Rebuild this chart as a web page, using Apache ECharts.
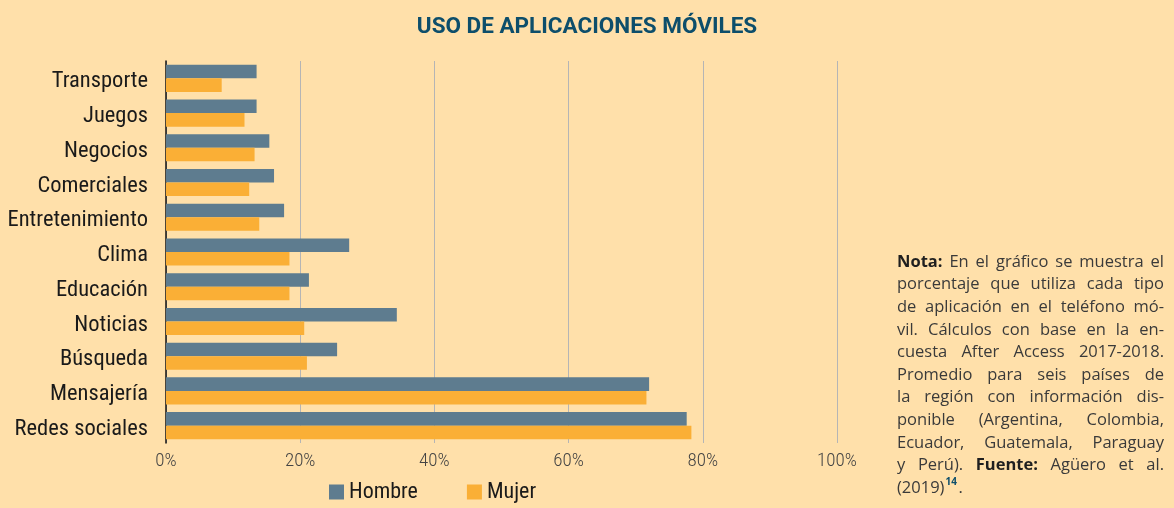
<!DOCTYPE html>
<html>
<head>
<meta charset="utf-8">
<script src="https://cdn.jsdelivr.net/npm/echarts@6/dist/echarts.min.js"></script>
<style>
  html, body { margin: 0; padding: 0; background: #FFE0AA; }
  #main { width: 1174px; height: 508px; }
</style>
</head>
<body>
<div id="main"></div>
<script>
// datos (porcentaje)
var categorias = ['Transporte', 'Juegos', 'Negocios', 'Comerciales', 'Entretenimiento', 'Clima',
  'Educación', 'Noticias', 'Búsqueda', 'Mensajería', 'Redes sociales'];
var hombre = [13.5, 13.5, 15.4, 16.1, 17.6, 27.3, 21.3, 34.4, 25.5, 72.0, 77.6];
var mujer = [8.3, 11.7, 13.2, 12.4, 13.9, 18.4, 18.4, 20.6, 21.0, 71.6, 78.3];
var ticksX = [0, 20, 40, 60, 80, 100];

var narrow = '"Roboto Condensed", Roboto, sans-serif';
var noteFont = '"Open Sans", sans-serif';

// texto de la nota, una línea por renglón (justificado a mano)
var notaLineas = [
  '*Nota:* En el gráfico se muestra el',
  'porcentaje que utiliza cada tipo',
  'de aplicación en el teléfono mó-',
  'vil. Cálculos con base en la en-',
  'cuesta After Access 2017-2018.',
  'Promedio para seis países de',
  'la región con información dis-',
  'ponible (Argentina, Colombia,',
  'Ecuador, Guatemala, Paraguay',
  'y Perú). *Fuente:* Agüero et al.'
];

var chart = echarts.init(document.getElementById('main'));

var ctx = document.createElement('canvas').getContext('2d');
function medir(txt, bold) {
  ctx.font = (bold ? 'bold ' : '') + '16.5px ' + noteFont;
  return ctx.measureText(txt).width;
}

var notaX = 897, notaW = 267, notaY = 262, notaLH = 22.6;
var graficos = [];
notaLineas.forEach(function (linea, i) {
  var palabras = linea.split(' ').map(function (p) {
    var b = p.charAt(0) === '*';
    var t = b ? p.replace(/\*/g, '') : p;
    return { t: t, b: b, w: medir(t, b) };
  });
  var suma = palabras.reduce(function (a, p) { return a + p.w; }, 0);
  var hueco = (notaW - suma) / (palabras.length - 1);
  var x = notaX;
  palabras.forEach(function (p) {
    graficos.push({
      type: 'text', x: x, y: notaY + i * notaLH,
      style: { text: p.t, font: (p.b ? 'bold ' : '') + '16.5px ' + noteFont,
        fill: p.b ? '#1f1f1f' : '#3a3a3a', textVerticalAlign: 'middle' }
    });
    x += p.w + hueco;
  });
});
// última línea con superíndice
var yUlt = notaY + 10 * notaLH;
var w2019 = medir('(2019)', false);
graficos.push({ type: 'text', x: notaX, y: yUlt,
  style: { text: '(2019)', font: '16.5px ' + noteFont, fill: '#3a3a3a', textVerticalAlign: 'middle' } });
graficos.push({ type: 'text', x: notaX + w2019 + 1, y: yUlt - 6,
  style: { text: '14', font: 'bold 10px ' + noteFont, fill: '#0D4E6B', textVerticalAlign: 'middle' } });
graficos.push({ type: 'text', x: notaX + w2019 + 14, y: yUlt,
  style: { text: '.', font: '16.5px ' + noteFont, fill: '#3a3a3a', textVerticalAlign: 'middle' } });

var option = {
  backgroundColor: '#FFE0AA',
  animation: false,
  title: {
    text: 'USO DE APLICACIONES MÓVILES',
    left: 'center',
    top: 11,
    textStyle: { fontFamily: 'Roboto, sans-serif', fontWeight: 'bold', fontSize: 22.5, color: '#0D4E6B' }
  },
  legend: {
    left: 324,
    top: 476,
    itemWidth: 15,
    itemHeight: 15,
    itemGap: 49,
    icon: 'rect',
    textStyle: { fontFamily: narrow, fontSize: 22, color: '#1a1a1a' },
    data: ['Hombre', 'Mujer']
  },
  grid: { left: 166, top: 61, width: 671, height: 382, outerBoundsMode: 'none' },
  xAxis: {
    type: 'value',
    min: ticksX[0],
    max: ticksX[ticksX.length - 1],
    interval: 20,
    axisLine: { show: false },
    axisTick: { show: false },
    axisLabel: { formatter: '{value}%', fontFamily: narrow, fontWeight: 300, fontSize: 19, color: '#444', margin: 9 },
    splitLine: { lineStyle: { color: '#b5b5b5', width: 1 } }
  },
  yAxis: {
    type: 'category',
    inverse: true,
    data: categorias,
    axisLine: { lineStyle: { color: '#111', width: 1.5 } },
    axisTick: { show: false },
    axisLabel: { fontFamily: narrow, fontSize: 22.5, color: '#1a1a1a', margin: 18,
      verticalAlign: 'top', lineHeight: 7 }
  },
  series: [
    { name: 'Hombre', type: 'bar', data: hombre, barGap: '0%', barCategoryGap: '22%',
      itemStyle: { color: '#5E7C8F' } },
    { name: 'Mujer', type: 'bar', data: mujer, barGap: '0%', barCategoryGap: '22%',
      itemStyle: { color: '#FAAF36' } }
  ],
  graphic: graficos
};
chart.setOption(option);
</script>
</body>
</html>
